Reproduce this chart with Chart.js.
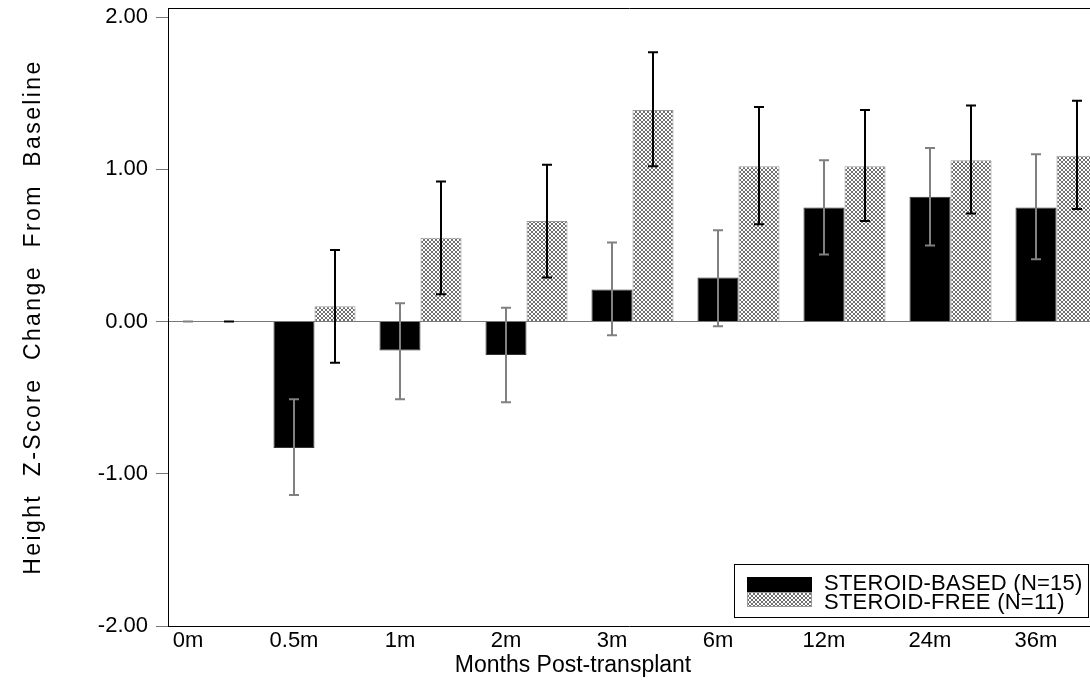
<!DOCTYPE html>
<html>
<head>
<meta charset="utf-8">
<script src="https://cdn.jsdelivr.net/npm/chart.js@4.4.1/dist/chart.umd.min.js"></script>
<style>
    html, body { margin: 0; padding: 0; background: #fff; overflow: hidden; }
    #wrap { width: 1090px; height: 680px; }
</style>
</head>
<body>
<div id="wrap"><canvas id="zChart"></canvas></div>
<script>
const categories = ["0m", "0.5m", "1m", "2m", "3m", "6m", "12m", "24m", "36m"];

// steroid-based group (black bars, grey error bars)
const basedMean = [0, -0.83, -0.19, -0.22, 0.21, 0.29, 0.75, 0.82, 0.75];
const basedLow  = [0, -1.14, -0.51, -0.53, -0.09, -0.03, 0.44, 0.50, 0.41];
const basedHigh = [0, -0.51, 0.12, 0.09, 0.52, 0.60, 1.06, 1.14, 1.10];

// steroid-free group (hatched bars, black error bars)
const freeMean = [0, 0.10, 0.55, 0.66, 1.39, 1.02, 1.02, 1.06, 1.09];
const freeLow  = [0, -0.27, 0.18, 0.29, 1.02, 0.64, 0.66, 0.71, 0.74];
const freeHigh = [0, 0.47, 0.92, 1.03, 1.77, 1.41, 1.39, 1.42, 1.45];

const yTicks = [-2, -1, 0, 1, 2];

Chart.defaults.font.family = "'Liberation Sans', Arial, sans-serif";
Chart.defaults.color = "#000";

const catPct = 0.774;
const labelShift = -catPct / 4; // labels sit under the black bar

function makeHatch() {
    const c = document.createElement("canvas");
    c.width = 4; c.height = 4;
    const g = c.getContext("2d");
    g.fillStyle = "#fff";
    g.fillRect(0, 0, 4, 4);
    g.fillStyle = "#707070";
    for (let i = 0; i < 4; i++) {
        g.fillRect(i, i, 1, 1);
        g.fillRect(i, 3 - i, 1, 1);
    }
    return g.createPattern(c, "repeat");
}
const hatch = makeHatch();

const errorBars = {
    id: "errorBars",
    afterDatasetsDraw(chart) {
        const { ctx, chartArea: a } = chart;
        const y = chart.scales.y;
        ctx.save();
        ctx.beginPath();
        ctx.rect(a.left, a.top, a.right - a.left, a.bottom - a.top);
        ctx.clip();
        [[basedLow, basedHigh, "#808080"], [freeLow, freeHigh, "#000"]].forEach(([lo, hi, col], di) => {
            ctx.strokeStyle = col;
            ctx.lineWidth = 2;
            chart.getDatasetMeta(di).data.forEach((bar, i) => {
                const x = Math.round(bar.x);
                const yl = y.getPixelForValue(lo[i]);
                const yh = y.getPixelForValue(hi[i]);
                ctx.beginPath();
                ctx.moveTo(x, yl); ctx.lineTo(x, yh);
                ctx.moveTo(x - 5, yl); ctx.lineTo(x + 5, yl);
                ctx.moveTo(x - 5, yh); ctx.lineTo(x + 5, yh);
                ctx.stroke();
            });
        });
        ctx.restore();
    }
};

const legendBox = {
    id: "legendBox",
    afterDraw(chart) {
        const { ctx, chartArea: a } = chart;
        const left = a.right - 356, top = a.bottom - 62;
        ctx.save();
        ctx.fillStyle = "#fff";
        ctx.fillRect(left, top, 355, 54);
        ctx.strokeStyle = "#000";
        ctx.lineWidth = 1;
        ctx.strokeRect(left + 0.5, top + 0.5, 354, 53);
        ctx.font = "22px 'Liberation Sans', Arial, sans-serif";
        ctx.letterSpacing = "0.25px";
        ctx.textBaseline = "alphabetic";
        chart.data.datasets.forEach((ds, i) => {
            const sy = top + 13 + i * 15;
            ctx.fillStyle = ds.backgroundColor;
            ctx.fillRect(left + 13, sy, 65, 15);
            if (i === 1) {
                ctx.strokeStyle = "#999";
                ctx.strokeRect(left + 13.5, sy + 0.5, 64, 14);
            }
            ctx.fillStyle = "#000";
            ctx.fillText(ds.label, left + 90, top + 26 + i * 19);
        });
        ctx.restore();
    }
};

const axisTitles = {
    id: "axisTitles",
    afterDraw(chart) {
        const ctx = chart.ctx;
        const a = chart.chartArea;
        ctx.save();
        ctx.fillStyle = "#000";
        ctx.textAlign = "center";
        ctx.textBaseline = "middle";
        ctx.font = "23px 'Liberation Sans', Arial, sans-serif";
        ctx.letterSpacing = "0px";
        ctx.fillText("Months Post-transplant", 573, 666);
        ctx.translate(34, (a.top + a.bottom) / 2);
        ctx.rotate(-Math.PI / 2);
        ctx.letterSpacing = "2.4px";
        ctx.fillText("Height  Z-Score  Change  From  Baseline", 0, 0);
        ctx.restore();
    }
};

new Chart(document.getElementById("zChart"), {
    type: "bar",
    data: {
        datasets: [
            {
                label: "STEROID-BASED (N=15)",
                data: categories.map((c, i) => ({ x: i, y: basedMean[i] })),
                backgroundColor: "#000",
                borderColor: "#333",
                borderWidth: 1,
                categoryPercentage: catPct,
                barPercentage: 1,
            },
            {
                label: "STEROID-FREE (N=11)",
                data: categories.map((c, i) => ({ x: i, y: freeMean[i] })),
                backgroundColor: hatch,
                borderColor: "#999",
                borderWidth: 1,
                categoryPercentage: catPct,
                barPercentage: 1,
            },
        ],
    },
    options: {
        responsive: true,
        maintainAspectRatio: false,
        animation: false,
        layout: { padding: { top: 8, left: 0, right: 0, bottom: 0 } },
        plugins: {
            legend: { display: false },
            tooltip: { enabled: false },
        },
        scales: {
            x: {
                type: "linear",
                offset: false,
                min: -0.382,
                max: 8.316,
                grid: { display: false, drawTicks: false, offset: false },
                border: { color: "#000", width: 1 },
                afterBuildTicks: s => { s.ticks = categories.map((c, i) => ({ value: i + labelShift })); },
                ticks: {
                    callback: (v, i) => categories[i],
                    font: { size: 22 },
                    padding: 2,
                    maxRotation: 0,
                    autoSkip: false,
                },
                afterFit: s => { s.height = 54; s.paddingLeft = 0; s.paddingRight = 0; },
            },
            x2: {
                type: "linear",
                position: "top",
                min: -0.382,
                max: 8.316,
                grid: { display: false, drawTicks: false },
                ticks: { display: false },
                border: { color: "#000", width: 1 },
                afterFit: s => { s.height = 0; },
            },
            y: {
                min: -2,
                max: 2.06,
                afterBuildTicks: s => { s.ticks = yTicks.map(v => ({ value: v })); },
                grid: {
                    color: c => (c.tick && c.tick.value === 0 ? "#777" : "rgba(0,0,0,0)"),
                    tickColor: "#777",
                    tickLength: 12,
                    lineWidth: 1,
                },
                border: { color: "#000", width: 1 },
                ticks: {
                    callback: v => Number(v).toFixed(2),
                    font: { size: 22 },
                    padding: 8,
                },
                afterFit: s => { s.width = 168; s.paddingTop = 0; s.paddingBottom = 0; },
            },
        },
    },
    plugins: [errorBars, legendBox, axisTitles],
});
</script>
</body>
</html>
